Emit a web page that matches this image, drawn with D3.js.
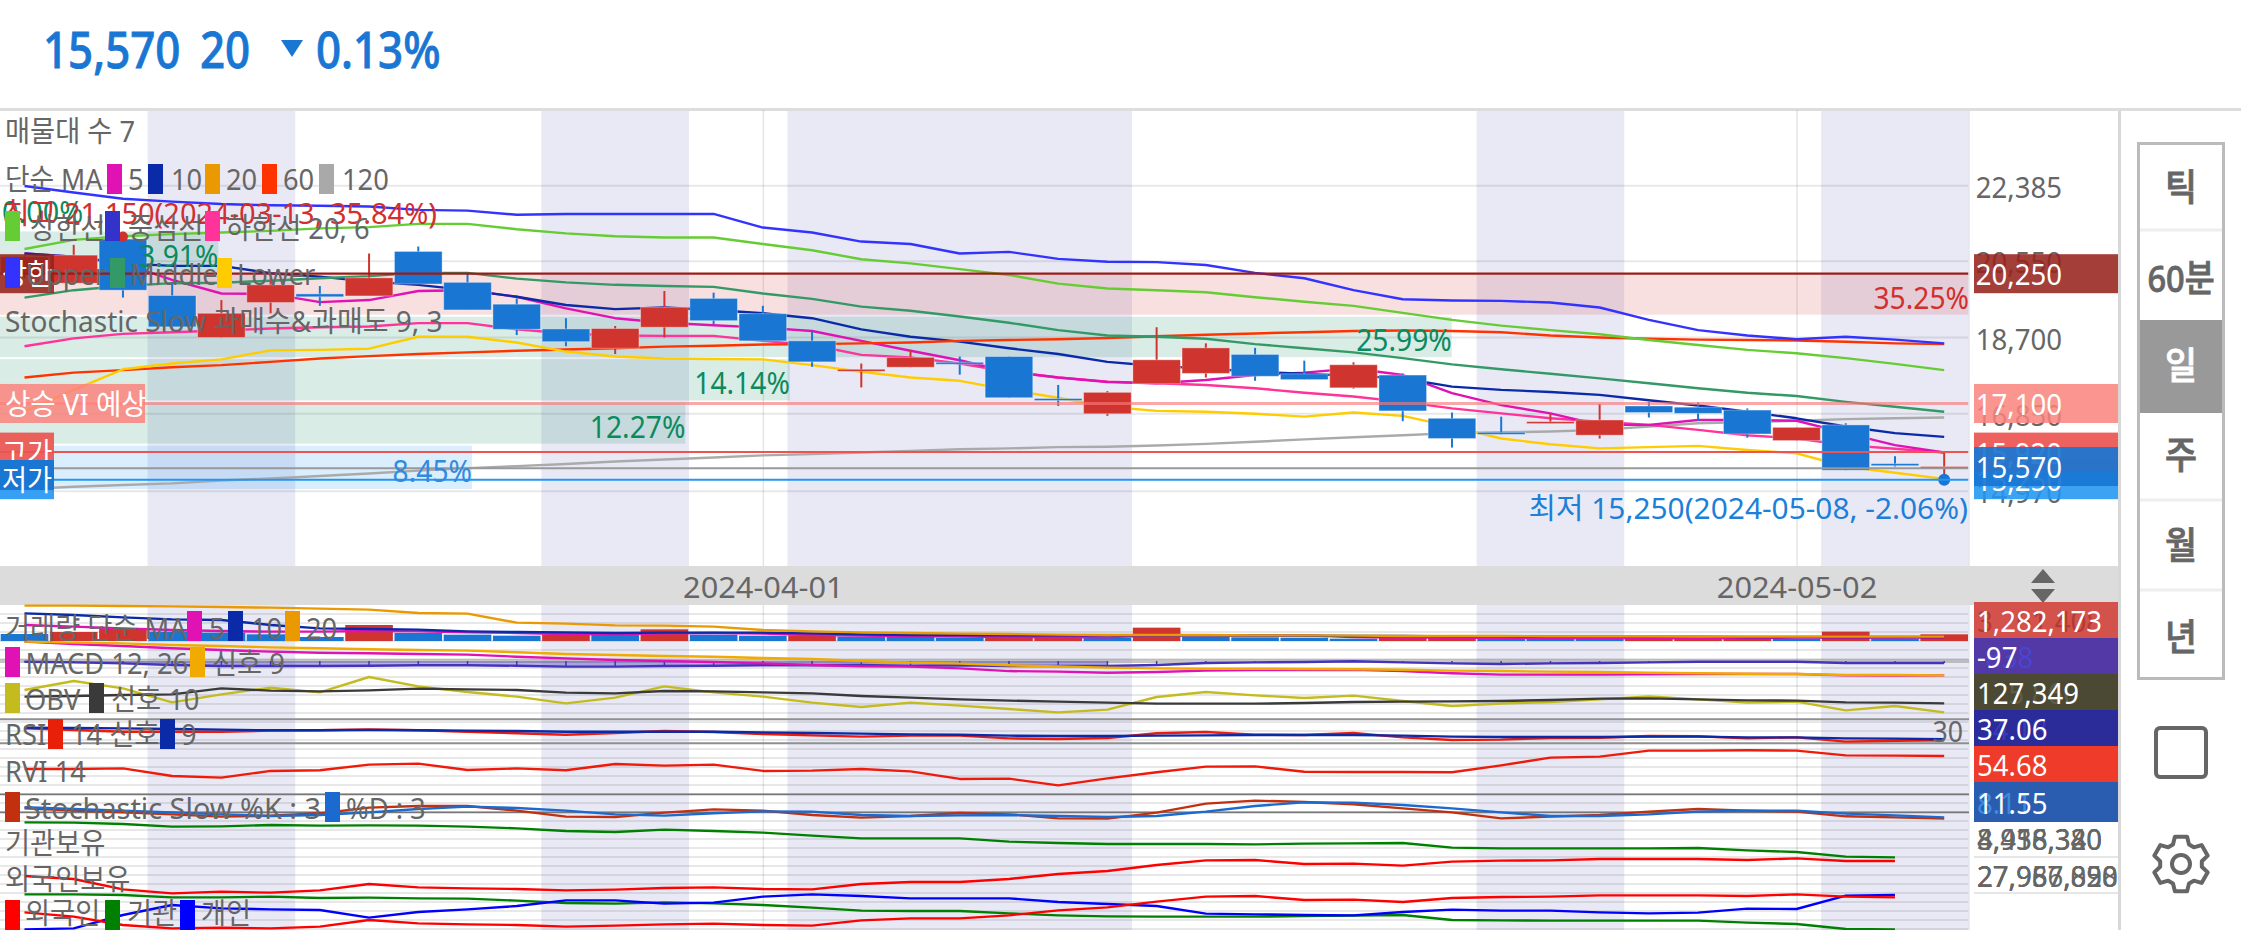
<!DOCTYPE html>
<html><head><meta charset="utf-8">
<script src="https://cdnjs.cloudflare.com/ajax/libs/d3/7.8.5/d3.min.js"></script>
<style>html,body{margin:0;padding:0;background:#fff;overflow:hidden}svg{display:block}text{font-family:"Noto Sans","Noto Sans CJK KR",sans-serif}</style>
</head><body><svg id="c" width="2241" height="930"></svg>
<script>
// ---- data ----
const dateTickIdx=[15,36];
const dateTickLabels=["2024-04-01","2024-05-02"];
const weekBandIdx=[[2,5],[10,13],[15,22],[29,32],[36,39.5]];
const open=[20220,20020,21090,19720,18700,19550,19760,19710,20790,20040,19510,18910,18440,18950,19650,19280,18620,17880,17980,18100,18240,17220,16850,17580,17830,18290,17820,17480,17790,16740,16400,16620,16330,17040,17010,16940,16200,16580,15640,15540];
const close=[20660,20700,19850,18960,19290,19980,19690,20150,20000,19370,18900,18600,18920,19430,19110,18620,18110,17930,18220,18060,17240,17180,17370,18160,18450,17760,17680,18040,16920,16250,16350,16660,16700,16880,16860,16360,16520,15480,15590,15570];
const high=[20700,20950,21150,20020,19610,20140,19950,20740,20910,20270,19650,19170,18980,19830,19790,19470,18840,18070,18400,18240,18240,17550,17400,18950,18560,18450,18140,18100,17830,16880,16780,16860,17090,17140,17130,16980,16520,16620,15820,15920];
const low=[20140,19990,19670,18880,18700,19290,19470,19710,20000,19370,18760,18490,18300,18700,19030,18620,17990,17490,17980,17800,17240,17040,16800,17580,17730,17650,17680,17460,16670,16030,16350,16620,16250,16760,16680,16270,16200,15480,15570,15250];
const ma5=[20740,20660,20500,20100,19770,19760,19560,19610,19830,19850,19690,19410,19170,19060,19000,18940,18860,18620,18380,18150,17870,17730,17620,17590,17670,17790,17850,17950,17790,17350,17060,16860,16580,16580,16700,16700,16680,16380,16090,15910];
const ma10=[20740,20660,20500,20440,20440,20260,20180,20060,19980,19850,19690,19490,19390,19430,19370,19290,19170,18900,18720,18600,18440,18300,18110,18010,17950,17870,17820,17770,17710,17510,17430,17380,17310,17180,17050,16900,16740,16540,16380,16290];
const ma60=[17730,17850,17910,17980,18030,18110,18190,18250,18300,18340,18380,18410,18440,18480,18500,18530,18540,18560,18580,18620,18640,18660,18690,18730,18770,18800,18830,18860,18870,18860,18830,18750,18700,18670,18650,18640,18630,18600,18560,18540];
const ma120=[15020,15080,15120,15160,15230,15280,15340,15400,15470,15530,15580,15630,15690,15740,15790,15840,15870,15910,15950,15990,16010,16040,16050,16080,16120,16170,16230,16280,16330,16380,16400,16420,16460,16540,16620,16650,16680,16720,16740,16760];
const bbUpper=[22380,22220,22070,22000,21940,21910,21900,21880,21800,21780,21680,21700,21700,21700,21700,21370,21250,21030,20970,20740,20780,20610,20540,20530,20460,20270,20140,19850,19630,19600,19590,19550,19430,19130,18880,18750,18660,18720,18650,18560];
const bbMiddle=[19670,19850,19950,20020,20030,20080,20140,20190,20270,20270,20130,20040,19980,19950,19930,19770,19640,19450,19350,19210,19060,18880,18750,18720,18670,18540,18440,18340,18200,18050,17930,17820,17710,17590,17470,17360,17280,17140,17020,16900];
const bbLower=[16900,17430,17930,18070,18170,18390,18400,18430,18720,18720,18580,18360,18240,18190,18180,18170,18030,17870,17730,17650,17430,17240,17020,16920,16900,16850,16780,16880,16800,16540,16250,16110,16010,16040,16070,15970,15890,15570,15420,15270];
const envUpper=[20850,21070,21160,21210,21250,21290,21350,21380,21460,21460,21330,21230,21160,21130,21130,20970,20820,20600,20500,20360,20220,20010,19890,19850,19800,19680,19570,19470,19300,19130,18990,18880,18780,18640,18520,18400,18320,18200,18060,17910];
const envLower=[18490,18680,18790,18830,18870,18920,18950,18970,19050,19050,18900,18800,18750,18740,18740,18620,18520,18280,18220,18070,17870,17730,17630,17590,17550,17470,17360,17270,17140,16980,16860,16740,16660,16580,16460,16330,16250,16090,16000,15910];
const priceLevels=[20250,17100,15920,15530,15250];
const priceGrid=[22385,20550,18700,16850,14970];
const profileEdges=[22350,21300,20250,19230,18200,17150,16100,15000];
const profilePct=[0,3.91,35.25,25.99,14.14,12.27,8.45];
const volume=[1344,1728,2432,1792,1600,1280,768,3072,1536,1216,1024,1248,1216,2240,1216,1024,1088,832,768,576,768,832,640,2560,832,704,640,448,640,704,448,435,416,448,480,512,384,1792,448,1282];
const volMa5=[3072,2752,2432,2112,1920,1792,1792,1920,1856,1664,1536,1344,1280,1472,1536,1408,1152,1024,896,832,768,768,704,1088,1088,1088,1088,768,640,640,576,576,512,512,512,512,640,640,640,704];
const volMa10=[5312,4992,4544,4160,4032,3072,2432,2304,2176,1856,1728,1664,1536,1600,1600,1600,1472,1280,1152,1152,1088,1088,1088,1088,1088,1024,1024,960,960,896,896,832,832,832,832,768,768,768,768,768];
const volMa20=[6784,6784,6720,6656,6528,6400,6208,6016,5376,5248,3520,3328,3008,2944,2752,2112,1856,1664,1536,1408,1344,1216,1152,1152,1152,1088,1088,1024,960,960,960,896,896,896,832,832,832,832,832,832];
const macd=[131,115,101,86,74,63,56,52,47,43,29,18,7,0,-7,-16,-27,-36,-38,-50,-68,-72,-79,-74,-65,-61,-61,-59,-68,-83,-92,-92,-92,-90,-88,-88,-88,-97,-99,-97];
const macdSignal=[131,124,119,108,101,92,86,79,74,70,59,47,41,34,29,20,14,0,-11,-18,-29,-36,-45,-50,-52,-52,-54,-56,-59,-65,-68,-72,-74,-79,-83,-86,-88,-95,-95,-97];
const macdHist=[-5,-9,-16,-27,-34,-34,-34,-32,-29,-29,-32,-38,-38,-34,-32,-29,-29,-27,-34,-29,-34,-34,-34,-27,-14,-9,-7,-2,-9,-16,-20,-16,-14,-9,-5,-5,-5,-14,-14,-14];
const obv=[194,221,199,157,181,201,187,233,205,188,174,154,171,205,187,174,156,143,156,147,137,127,135,173,188,178,170,177,161,146,153,158,166,175,166,156,159,133,146,127];
const obvSignal=[174,176,179,181,199,192,190,193,198,196,194,186,184,191,190,187,184,176,171,166,162,159,156,153,153,153,155,158,159,160,161,164,168,169,166,163,162,157,156,154];
const rsi=[55,52.2,49.4,49.4,49.4,51.1,51.7,53.3,51.7,49.4,46.7,44.4,47.2,50.6,48.9,45.6,43.3,41.1,42.8,42.8,38.3,37.2,38.9,46.7,48.9,44.4,43.9,47.2,40,35.6,36.1,38.9,39.4,42.2,41.7,38.3,40,32.8,34.4,35];
const rsiSignal=[56.1,55.6,55,53.9,52.8,51.7,51.7,52.2,51.7,51.1,50.6,49.4,49.4,49.4,49.4,48.3,47.2,46.1,45,44.4,42.8,42.2,42.2,42.8,43.3,43.9,43.9,43.9,42.8,41.1,40.6,40.6,40.6,41.1,41.1,40,40,38.3,37.8,36.7];
const rvi=[44.9,44.9,45.4,39.7,38.5,43.5,44,48.2,49,44.2,45.4,44,48.7,47.5,48.2,43.5,43.7,44.9,43.2,37.5,37.7,32.7,37.9,42.5,46.7,46.9,42.9,42.7,42.7,42.5,47.7,53.5,54.2,58.7,58.7,59,58.7,55.2,55,54.7];
const stochK=[33.3,25.6,20,13.3,5.6,8.9,16.7,35.6,41.1,41.1,25.6,5.6,4.4,18.9,30,25.6,11.1,2.2,7.8,17.8,13.3,0,-1.1,18.9,48.9,58.9,54.4,46.7,33.3,20,0,5.6,11.1,22.2,31.1,25.6,22.2,6.7,3.3,-1.1];
const stochD=[36.7,31.1,25.6,20,13.3,7.8,11.1,20,31.1,38.9,34.4,25.6,13.3,8.9,16.7,23.3,22.2,11.1,7.8,10,11.1,7.8,4.4,7.8,22.2,41.1,53.3,52.2,44.4,33.3,20,7.8,7.8,13.3,22.2,25.6,25.6,15.6,10,3.3];
const instHold=[4463,4458,4438,4398,4403,4423,4413,4418,4413,4398,4373,4333,4318,4353,4333,4308,4263,4223,4223,4223,4173,4153,4138,4138,4138,4133,4143,4148,4153,4083,4073,4073,4073,4073,4078,4043,4018,3948,3938];
const forHold=[27507,27417,27107,26987,27037,27007,27077,27267,27167,27137,27117,27077,27097,27147,27167,27117,27107,27267,27327,27327,27417,27567,27657,27837,27977,27987,27867,27877,27817,27937,27967,27977,28017,28017,28017,27987,28037,27957,27957];
const netForeign=[30,-100,-350,-450,-430,-450,-400,-200,-300,-330,-350,-400,-370,-330,-310,-350,-370,-210,-150,-150,-60,90,180,350,500,520,400,410,340,460,490,500,540,540,540,520,570,500,480];
const netInst=[570,570,550,480,480,500,460,470,450,440,380,310,290,330,300,250,170,80,70,70,0,-60,-90,-100,-100,-100,-80,-70,-50,-200,-210,-220,-220,-220,-220,-280,-320,-470,-480];
const netRetail=[-480,-450,-50,250,150,120,100,-130,40,120,220,390,390,290,320,500,570,520,450,450,450,340,280,220,-10,-30,-50,-60,40,110,80,80,30,0,20,140,130,530,550];
const periodButtons=["틱","60분","일","주","월","년"];

// ---- scales ----
const svg=d3.select("#c");
const W=1969;
const x=d3.scaleLinear().domain([0,39]).range([24.5,1944.2]);
const step=x(1)-x(0);
const y=d3.scaleLinear().domain([15250,20250]).range([479.7,273.7]);
const xPct=d3.scaleLinear().domain([0,35.25]).range([0,W]);
const yVol=d3.scaleLinear().domain([0,6720]).range([641,606]);
const yMacd=d3.scaleLinear().domain([0,135]).range([661,641]);
const yObv=d3.scaleLinear().domain([127,233]).range([712.33,677]);
const yRsi=d3.scaleLinear().domain([30,70]).range([743.33,719.33]);
const yRvi=d3.scaleLinear().domain([32.7,54.7]).range([785.33,756]);
const ySto=d3.scaleLinear().domain([20,80]).range([812.33,794.33]);
const yInst=d3.scaleLinear().domain([3938,4463]).range([857.33,822.33]);
const yFor=d3.scaleLinear().domain([26987,27957]).range([893.33,861]);
const yNet=d3.scaleLinear().domain([0,570]).range([913.33,894.33]);
const GR="#666";

function txt(parent,px,py,s,o={}){
  const t=parent.append("text").attr("x",px).attr("y",py).attr("dominant-baseline","central")
    .attr("font-size",o.size||29).attr("fill",o.fill||GR).attr("text-anchor",o.anchor||"start")
    .attr("font-weight",o.weight||400).text(s);
  if(o.stroke)t.attr("stroke",o.fill||GR).attr("stroke-width",o.stroke);
  const sx=o.sx==null?0.94:o.sx;
  const n=t.node();const len=n.getComputedTextLength();
  t.attr("textLength",len*sx).attr("lengthAdjust","spacingAndGlyphs");
  return t;
}
function line(parent,arr,sc,col,w=2.4){
  parent.append("path").attr("fill","none").attr("stroke",col).attr("stroke-width",w).attr("stroke-linejoin","round")
    .attr("d",d3.line().x((d,i)=>x(i)).y(d=>sc(d))(arr));
}
function swatch(parent,px,py,col,h=30){parent.append("rect").attr("x",px).attr("y",py).attr("width",15).attr("height",h).attr("fill",col);}

// ---- header ----
const hd=svg.append("g");
hd.append("rect").attr("x",0).attr("y",108).attr("width",2241).attr("height",3).attr("fill","#ddd");
const B="#1976d2";
txt(hd,43,48,"15,570",{size:51,fill:B,weight:500,sx:0.86,stroke:0.8});
txt(hd,200,48,"20",{size:51,fill:B,weight:500,sx:0.86,stroke:0.8});
hd.append("path").attr("d","M281,40H303L292,57Z").attr("fill",B);
txt(hd,316,48,"0.13%",{size:51,fill:B,weight:500,sx:0.86,stroke:0.8});

// ---- week bands + grid ----
const bg=svg.append("g");
bg.selectAll("rect").data(weekBandIdx).join("rect")
  .attr("x",d=>x(d[0]+.5)).attr("width",d=>Math.min(W,x(d[1]+.5))-x(d[0]+.5))
  .attr("y",111).attr("height",819).attr("fill","#e9e9f6");
const xAxisG=svg.append("g").attr("transform","translate(0,930)");
xAxisG.call(d3.axisTop(x).tickValues(dateTickIdx).tickSize(820).tickFormat(""));
xAxisG.select(".domain").remove();
xAxisG.selectAll("line").attr("stroke","rgba(0,0,0,0.1)").attr("stroke-width",1.5);
const grid=svg.append("g");
grid.selectAll("line").data(priceGrid).join("line").attr("x1",0).attr("x2",W).attr("y1",d=>y(d)).attr("y2",d=>y(d))
  .attr("stroke","rgba(0,0,0,0.09)").attr("stroke-width",2);
const subGrid=d3.range(614,930,9);
grid.append("g").selectAll("line").data(subGrid).join("line").attr("x1",0).attr("x2",W).attr("y1",d=>d).attr("y2",d=>d)
  .attr("stroke","rgba(0,0,0,0.09)").attr("stroke-width",2);

// ---- volume profile ----
const pf=svg.append("g");
const pfCol=p=>p>30?"rgba(211,47,47,.15)":p>=8.45&&p<9?"rgba(33,150,243,.16)":"rgba(0,137,90,.15)";
const pfTxt=p=>p>30?"#d32f2f":p>=8.45&&p<9?"#2f8be0":"#0b8a5e";
profilePct.forEach((p,i)=>{
  const y0=y(profileEdges[i]),y1=y(profileEdges[i+1]);
  pf.append("rect").attr("x",0).attr("y",y0+1).attr("width",xPct(p)).attr("height",y1-y0-2).attr("fill",pfCol(p));
});

// ---- MA / band lines ----
const lines=svg.append("g");
line(lines,ma120,y,"#aaaaaa");
line(lines,envLower,y,"#ff3399");
line(lines,ma5,y,"#e112b4");
line(lines,ma10,y,"#0b2aa8");
line(lines,ma60,y,"#ff3300");
line(lines,bbLower,y,"#ffcc00");
line(lines,bbMiddle,y,"#339966");
line(lines,envUpper,y,"#66cc33");
line(lines,bbUpper,y,"#3333ff");

// ---- candles ----
const cd=svg.append("g");
const up=i=>close[i]>=open[i];
const cCol=i=>up(i)?"#cf352e":"#1976d2";
d3.range(open.length).forEach(i=>{
  cd.append("line").attr("x1",x(i)).attr("x2",x(i)).attr("y1",y(high[i])).attr("y2",y(low[i])).attr("stroke",cCol(i)).attr("stroke-width",2);
  const t=y(Math.max(open[i],close[i])),b=y(Math.min(open[i],close[i]));
  cd.append("rect").attr("x",x(i)-step/2+.8).attr("width",step-1.6).attr("y",t).attr("height",Math.max(b-t,2)).attr("fill",cCol(i))
    .attr("stroke","rgba(255,255,255,.35)").attr("stroke-width",1);
});
cd.append("circle").attr("cx",x(2)).attr("cy",y(21150)).attr("r",5).attr("fill","#d32f2f");
cd.append("circle").attr("cx",x(39)).attr("cy",y(15250)).attr("r",6).attr("fill","#1976d2");

// ---- price level lines ----
const lvlCols=["#9b1c16","rgba(250,120,120,.65)","#ef5350","#999","#2196f3"];
const lvlW=[2.2,3,2,2,2];
priceLevels.forEach((p,i)=>svg.append("line").attr("x1",0).attr("x2",W).attr("y1",y(p)).attr("y2",y(p)).attr("stroke",lvlCols[i]).attr("stroke-width",lvlW[i]));

// profile labels
profilePct.forEach((p,i)=>{
  const yc=(y(profileEdges[i])+y(profileEdges[i+1]))/2+3;
  const s=p.toFixed(2)+"%";
  if(p===0) txt(svg,2,yc,s,{fill:"#0b8a5e",sx:.96,size:30});
  else txt(svg,xPct(p),yc,s,{fill:pfTxt(p),anchor:"end",sx:.94,size:30});
});

// ---- axis bar + right panel ----
svg.append("rect").attr("x",0).attr("y",566).attr("width",2119).attr("height",39).attr("fill","#dcdcdc");
const dateAxis=svg.append("g").attr("transform","translate(0,586)");
dateAxis.call(d3.axisBottom(x).tickValues(dateTickIdx).tickSize(0).tickPadding(0).tickFormat((d,i)=>dateTickLabels[i]));
dateAxis.select(".domain").remove();
dateAxis.selectAll("text").each(function(d,i){
  d3.select(this).attr("font-size",29).attr("fill",GR).attr("y",0).attr("dy",null).attr("dominant-baseline","central")
   .style("font-family",'"Noto Sans","Noto Sans CJK KR",sans-serif');
  const l=this.getComputedTextLength();d3.select(this).attr("textLength",l*1.06).attr("lengthAdjust","spacingAndGlyphs");
});
svg.append("path").attr("d","M2031,583L2043,569L2055,583Z").attr("fill",GR);
svg.append("path").attr("d","M2031,589L2055,589L2043,603Z").attr("fill",GR);
svg.append("line").attr("x1",W).attr("x2",W).attr("y1",111).attr("y2",566).attr("stroke","#e4e4ee").attr("stroke-width",1.5);
svg.append("line").attr("x1",W).attr("x2",W).attr("y1",605).attr("y2",930).attr("stroke","#e4e4ee").attr("stroke-width",1.5);
svg.append("rect").attr("x",2118).attr("y",111).attr("width",3).attr("height",819).attr("fill","#d8d8d8");

// price axis
const axisR=svg.append("g").attr("transform","translate(2062,0)");
axisR.call(d3.axisRight(y).tickValues(priceGrid).tickSize(0).tickPadding(0).tickFormat(d3.format(",")));
axisR.select(".domain").remove();
axisR.selectAll("text").each(function(){
  d3.select(this).attr("x",0).attr("dy",null).attr("text-anchor","end").attr("dominant-baseline","central")
    .attr("font-size",29).attr("fill",GR).style("font-family",'"Noto Sans","Noto Sans CJK KR",sans-serif');
  const l=this.getComputedTextLength();d3.select(this).attr("textLength",l*.95).attr("lengthAdjust","spacingAndGlyphs");
});

// ---- price tags ----
const tags=svg.append("g");
function tag(xa,wd,yc,col,s,tx,anchor){
  tags.append("rect").attr("x",xa).attr("y",yc-19.5).attr("width",wd).attr("height",39).attr("fill",col);
  if(s) txt(tags,tx,yc,s,{fill:"#fff",anchor:anchor||"end",sx:.95});
}
tag(1974,144,y(20250),"rgba(150,35,28,.88)","20,250",2062);
tag(1974,144,y(17100),"rgba(250,130,125,.85)","17,100",2062);
tag(1974,144,y(15250),"rgba(33,150,243,.88)","15,250",2062);
tag(1974,144,y(15920),"rgba(236,85,80,.92)","15,920",2062);
tag(1974,144,y(15570),"rgba(25,118,210,.92)","15,570",2062);
tag(0,54,y(20250),"rgba(150,35,28,.88)","상한",27,"middle");
tag(0,145,y(17100),"rgba(250,130,125,.85)","상승 VI 예상",5,"start");
tag(0,54,y(15920),"rgba(236,85,80,.92)","고가",27,"middle");
tag(0,54,y(15250),"rgba(33,150,243,.9)",null);
tags.append("rect").attr("x",0).attr("y",460).attr("width",54).attr("height",30).attr("fill","#1976d2");
txt(tags,27,y(15250),"저가",{fill:"#fff",anchor:"middle",sx:.94});

// ---- main legend ----
const lg=svg.append("g");
txt(lg,5,130,"매물대 수 7");
txt(lg,5,178,"단순 MA",{sx:.92});
[[107,"#e112b4",128,"5"],[148,"#0b2aa8",171,"10"],[205,"#ea9a00",226,"20"],[262,"#ff3300",283,"60"],[319,"#a9a9a9",342,"120"]].forEach(d=>{swatch(lg,d[0],164,d[1]);txt(lg,d[2],178,d[3]);});
txt(lg,3,212,"최고 21,150(2024-03-13, 35.84%)",{fill:"#d32f2f",sx:1.0});
swatch(lg,5,211,"#66cc33");txt(lg,30,227,"상한선");
swatch(lg,105,211,"#3333cc");txt(lg,128,227,"중심선");
swatch(lg,205,211,"#ff3399");txt(lg,226,227,"하한선 20, 6");
swatch(lg,5,258,"#3333ff");txt(lg,26,273,"Upper");
swatch(lg,110,258,"#339966");txt(lg,130,273,"Middle");
swatch(lg,217,258,"#ffcc00");txt(lg,237,273,"Lower");
txt(lg,5,320,"Stochastic Slow 과매수&과매도 9, 3",{sx:.965});
txt(lg,1968,507,"최저 15,250(2024-05-08, -2.06%)",{fill:"#1e7fd8",anchor:"end",sx:1.03});

// ---- sub panels ----
const sp=svg.append("g");
[yRsi(70),yRsi(30),ySto(80),ySto(20)].forEach((v,i)=>sp.append("line").attr("x1",0).attr("x2",W).attr("y1",v).attr("y2",v).attr("stroke",i<2?"#8f8f8f":"#777").attr("stroke-width",i<2?2:1.6));
volume.forEach((v,i)=>{
  const isUp=i>0&&v>volume[i-1];
  sp.append("rect").attr("x",x(i)-step/2+.8).attr("width",step-1.6).attr("y",yVol(v)).attr("height",yVol(0)-yVol(v))
    .attr("fill",isUp?"#cf352e":"#1976d2");
});
line(sp,volMa5,yVol,"#e112b4");
line(sp,volMa10,yVol,"#0b2aa8");
line(sp,volMa20,yVol,"#ea9a00");
sp.append("line").attr("x1",0).attr("x2",W).attr("y1",yMacd(0)).attr("y2",yMacd(0)).attr("stroke","rgba(150,150,150,.55)").attr("stroke-width",4);
sp.append("path").attr("fill","rgba(60,50,190,.38)").attr("d",d3.area().defined((d,i)=>i<=22).x((d,i)=>x(i)).y0(yMacd(0)).y1(d=>yMacd(d))(macdHist));
macdHist.forEach((v,i)=>sp.append("line").attr("x1",x(i)).attr("x2",x(i)).attr("y1",yMacd(0)).attr("y2",yMacd(v)).attr("stroke","#4433bb").attr("stroke-width",1.5));
line(sp,macdHist,yMacd,"#4433bb");
line(sp,macd,yMacd,"#e112b4");
line(sp,macdSignal,yMacd,"#f0aa00");
line(sp,obv,yObv,"#c4bb1e");
line(sp,obvSignal,yObv,"#3a3a3a");
line(sp,rsi,yRsi,"#f01a0a");
line(sp,rsiSignal,yRsi,"#0b2aa8");
line(sp,rvi,yRvi,"#f01a0a");
line(sp,stochK,ySto,"#c23010");
line(sp,stochD,ySto,"#1a6ad0");
line(sp,instHold,yInst,"#008000");
line(sp,forHold,yFor,"#ff0000");
line(sp,netInst,yNet,"#008000");
line(sp,netRetail,yNet,"#0000ff");
line(sp,netForeign,yNet,"#ff0000");

// sub legends
const sl=svg.append("g");
txt(sl,5,627,"거래량 단순 MA");
[[187,"#e112b4",209,"5"],[228,"#0b2aa8",251,"10"],[285,"#ea9a00",306,"20"]].forEach(d=>{swatch(sl,d[0],611,d[1]);txt(sl,d[2],627,d[3]);});
swatch(sl,5,647,"#e112b4");txt(sl,25.5,662,"MACD 12, 26");swatch(sl,190,647,"#f0aa00");txt(sl,212,662,"신호 9");
swatch(sl,5,683,"#c4bb1e");txt(sl,25,698,"OBV");swatch(sl,89,683,"#3a3a3a");txt(sl,111,698,"신호 10");
txt(sl,5,733,"RSI");swatch(sl,48,719,"#e8200a");txt(sl,71,733,"14 신호");swatch(sl,160,719,"#0b2aa8");txt(sl,181,733,"9");
txt(sl,5,770,"RVI 14");
swatch(sl,5,792,"#c23010");txt(sl,25,807,"Stochastic Slow %K : 3",{sx:.995});swatch(sl,325,792,"#1a6ad0");txt(sl,346,807,"%D : 3");
txt(sl,5,842,"기관보유");
txt(sl,5,878,"외국인보유");
swatch(sl,5,900,"#ff0000");txt(sl,25,912,"외국인");swatch(sl,105,900,"#008000");txt(sl,127,912,"기관");swatch(sl,180,900,"#0000ff");txt(sl,201,912,"개인");
txt(sl,1963,730,"30",{anchor:"end",sx:.92});

// sub tags
const st=svg.append("g");
const subTags=[[602,36,"#d3524c","1,282,173","3,261,408","#b33a33"],[638,36,"#5239a6","-97","-838","#4a45d0"],[674,36,"#4b4933","127,349","125,860","#5e5c46"],[710,36,"#2b2c9a","37.06","34.18","#3a3bb8"],[746,36,"#ef3c2a","54.68","54.68","#c9281a"],[782,40,"#2a5db0","11.55","8.11","#3d8be0"]];
subTags.forEach(d=>{
  st.append("rect").attr("x",1974).attr("y",d[0]).attr("width",144).attr("height",d[1]).attr("fill",d[2]);
  txt(st,1977,d[0]+d[1]/2,d[4],{fill:d[5],sx:.95});
  txt(st,1977,d[0]+d[1]/2,d[3],{fill:"#fff",sx:.95});
});
st.append("rect").attr("x",1974).attr("y",822).attr("width",144).attr("height",108).attr("fill","#fff");
[857,893].forEach(v=>st.append("line").attr("x1",1974).attr("x2",2118).attr("y1",v).attr("y2",v).attr("stroke","#e6e6e6").attr("stroke-width",2));
["3,938,320","4,458,380","8,916,340"].forEach(s=>txt(st,1977,838,s,{sx:.95}));
["27,957,090","27,966,820","27,987,858"].forEach(s=>txt(st,1977,875,s,{sx:.95}));

// ---- buttons ----
const bt=svg.append("g");
bt.append("rect").attr("x",2137).attr("y",142).attr("width",88).attr("height",538).attr("fill","#fff");
bt.append("rect").attr("x",2137).attr("y",320).attr("width",88).attr("height",93).attr("fill","#999");
[230,500,590].forEach(v=>bt.append("line").attr("x1",2138).attr("x2",2224).attr("y1",v).attr("y2",v).attr("stroke","#eee").attr("stroke-width",3));
bt.append("rect").attr("x",2138.5).attr("y",143.5).attr("width",85).attr("height",535).attr("fill","none").attr("stroke","#bbb").attr("stroke-width",3);
const btnY=[186,277,364,454,544,636];
periodButtons.forEach((s,i)=>txt(bt,2181,btnY[i],s,{size:37,anchor:"middle",weight:500,fill:i===2?"#fff":GR,sx:i===1?.88:.94,stroke:0.8}));
bt.append("rect").attr("x",2156).attr("y",728).attr("width",50).attr("height",49).attr("rx",4).attr("fill","none").attr("stroke",GR).attr("stroke-width",4);
const gearPts=[];const teeth=6;
for(let k=0;k<teeth;k++){
  const a=k*2*Math.PI/teeth-Math.PI/2;const w=Math.PI/teeth;
  [[a-w*.75,21],[a-w*.42,28],[a+w*.42,28],[a+w*.75,21]].forEach(p=>gearPts.push(p));
}
bt.append("path").attr("transform","translate(2181,864)").attr("fill","none").attr("stroke",GR).attr("stroke-width",4).attr("stroke-linejoin","round")
  .attr("d",d3.lineRadial().angle(d=>d[0]+Math.PI/2).radius(d=>d[1]).curve(d3.curveLinearClosed)(gearPts));
bt.append("circle").attr("cx",2181).attr("cy",864).attr("r",9).attr("fill","none").attr("stroke",GR).attr("stroke-width",4);
</script></body></html>
